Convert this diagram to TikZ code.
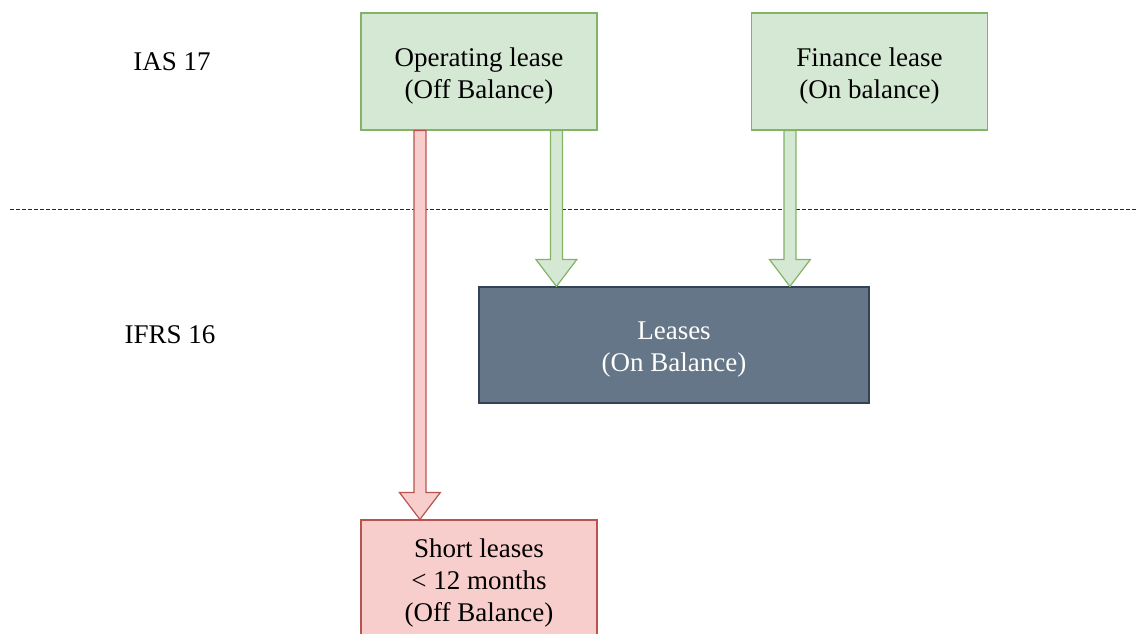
\documentclass[tikz,border=0pt]{standalone}
\usepackage{fontspec}
\setmainfont{Liberation Serif}
\usetikzlibrary{calc}
\definecolor{gfill}{HTML}{D5E8D4}
\definecolor{gline}{HTML}{82B366}
\definecolor{rfill}{HTML}{F8CECC}
\definecolor{rline}{HTML}{B85450}
\definecolor{bfill}{HTML}{647687}
\definecolor{bline}{HTML}{314354}
\newcommand\topstrut{\rule{0pt}{27pt}}
\tikzset{
  txt/.style={font=\fontsize{27}{32}\selectfont, align=center, inner sep=0pt},
  box/.style={txt, draw, line width=1.2pt, minimum width=236pt, minimum height=117pt},
  greenbox/.style={box, fill=gfill, draw=gline},
  redbox/.style={box, fill=rfill, draw=rline},
  bluebox/.style={box, fill=bfill, draw=bline, text=white, minimum width=390pt, minimum height=116pt},
  garrow/.style={fill=gfill, draw=gline, line width=1.2pt, line join=miter},
  rarrow/.style={fill=rfill, draw=rline, line width=1.2pt, line join=miter},
}
\newcommand\blockarr[3]{%
  \draw[#1] let \p1=(#2), \p2=(#3) in
    (\x1-6pt,\y1) -- (\x1-6pt,\y2+27pt) -- (\x1-20.5pt,\y2+27pt) -- (\x1,\y2)
    -- (\x1+20.5pt,\y2+27pt) -- (\x1+6pt,\y2+27pt) -- (\x1+6pt,\y1) -- cycle;}
\begin{document}
\begin{tikzpicture}[x=1pt,y=1pt]
\useasboundingbox (0,0) rectangle (1137,633);
\begin{scope}
\clip (0,0) rectangle (1137,633);
\node[txt] (ias) at (172,571) {IAS 17};
\node[txt] (ifrs) at (170,298) {IFRS 16};
\coordinate (dl) at (10,424);
\coordinate (dr) at (1137,424);
\draw[dash pattern=on 3.5pt off 2.5pt, line width=0.9pt, black!85] (dl) -- (dr);
\node[greenbox] (op) at (479,561.5) {\topstrut Operating lease\\(Off Balance)};
\node[greenbox] (fin) at (869.5,561.5) {\topstrut Finance lease\\(On balance)};
\node[bluebox] (leases) at (674,288) {\topstrut Leases\\(On Balance)};
\node[redbox] (short) at (479,54.5) {\topstrut Short leases\\\textless{} 12 months\\(Off Balance)};
\coordinate (r1) at ($(op.south west)+(59.5,0)$);
\coordinate (r2) at (short.north -| r1);
\coordinate (g1) at ($(op.south west)+(196,0)$);
\coordinate (g2) at (leases.north -| g1);
\coordinate (f1) at ($(fin.south west)+(39,0)$);
\coordinate (f2) at (leases.north -| f1);
\blockarr{rarrow}{r1}{r2}
\blockarr{garrow}{g1}{g2}
\blockarr{garrow}{f1}{f2}
\end{scope}
\end{tikzpicture}
\end{document}
